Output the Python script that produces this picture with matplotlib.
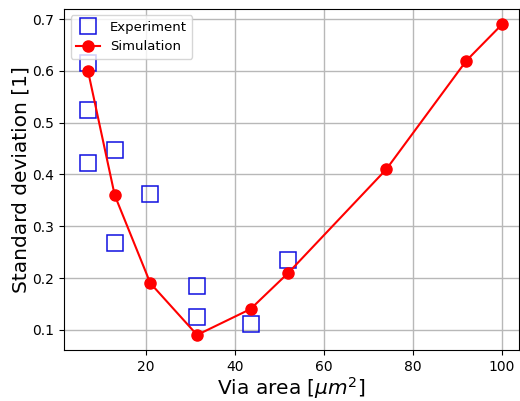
import numpy as np
import matplotlib
matplotlib.use("Agg")
import matplotlib.pyplot as plt

# experiment measurements
exp_area = [7, 7, 7, 13, 13, 21, 31.5, 31.5, 43.5, 52]
exp_std = [0.615, 0.525, 0.422, 0.448, 0.268, 0.362, 0.185, 0.125, 0.112, 0.235]

# simulation results
sim_area = [7, 13, 21, 31.5, 43.5, 52, 74, 92, 100]
sim_std = [0.60, 0.36, 0.19, 0.09, 0.14, 0.21, 0.41, 0.62, 0.69]

fig = plt.figure(figsize=(5.2, 4.01), dpi=100)
ax = fig.add_axes([0.123, 0.126, 0.875, 0.852])

ax.plot(exp_area, exp_std, 's', markersize=11, markerfacecolor='none',
        markeredgecolor='#1010e0', markeredgewidth=1.1, linestyle='none', label='Experiment')
ax.plot(sim_area, sim_std, '-o', color='red', markersize=8, linewidth=1.5, label='Simulation')

ax.set_xlim(1.6, 103.8)
ax.set_xlabel(r'Via area [$\mu m^2$]', fontsize=14.5, labelpad=1)
ax.set_ylabel('Standard deviation [1]', fontsize=14.5, labelpad=1)
ax.tick_params(labelsize=10)
ax.grid(True, color='#b8b8b8', linewidth=1)
ax.set_axisbelow(True)
ax.legend(loc='upper left', fontsize=9.5, handlelength=1.8)

fig.savefig('out.png', dpi=100)
